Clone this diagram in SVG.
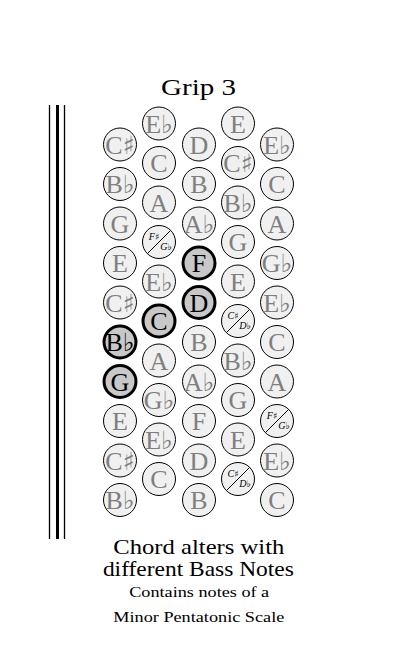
<svg xmlns="http://www.w3.org/2000/svg" width="412" height="645" viewBox="0 0 412 645">
<style>
.k{fill:#f0f0f0;stroke:#000;stroke-width:1}
.h{fill:#c8c8c8;stroke:#000;stroke-width:3}
.t{font-family:"Liberation Serif","DejaVu Sans",serif;font-size:26px;fill:#7f7f7f;text-anchor:middle}
.th{fill:#000}
.acc{font-family:"DejaVu Sans",sans-serif;font-size:25px}
.s{font-family:"Liberation Serif","DejaVu Sans",serif;font-size:10px;font-style:italic;fill:#000;text-anchor:middle}
.sa{font-family:"DejaVu Sans",sans-serif;font-size:9px;font-style:normal}
.d{stroke:#000;stroke-width:1}
.cap{font-family:"Liberation Serif",serif;fill:#000;text-anchor:middle}
</style>
<rect width="412" height="645" fill="#fff"/>
<g id="lines">
<line x1="49.5" y1="105" x2="49.5" y2="539" stroke="#000" stroke-width="1.3"/>
<line x1="57.5" y1="105" x2="57.5" y2="539" stroke="#000" stroke-width="3"/>
<line x1="64.5" y1="105" x2="64.5" y2="539" stroke="#000" stroke-width="1.3"/>
</g>
<text id="title" class="cap" x="198.5" y="95" font-size="23" textLength="75" lengthAdjust="spacingAndGlyphs">Grip 3</text>
<g id="col1">
<g id="c1r0"><circle class="k" cx="120" cy="144.5" r="16.5"/><text class="t" x="120" y="153.5">C<tspan class="acc">♯</tspan></text></g>
<g id="c1r1"><circle class="k" cx="120" cy="184" r="16.5"/><text class="t" x="120" y="193">B<tspan class="acc">♭</tspan></text></g>
<g id="c1r2"><circle class="k" cx="120" cy="223.5" r="16.5"/><text class="t" x="120" y="232.5">G</text></g>
<g id="c1r3"><circle class="k" cx="120" cy="263" r="16.5"/><text class="t" x="120" y="272">E</text></g>
<g id="c1r4"><circle class="k" cx="120" cy="302.5" r="16.5"/><text class="t" x="120" y="311.5">C<tspan class="acc">♯</tspan></text></g>
<g id="c1r5"><circle class="h" cx="120" cy="342" r="16"/><text class="t th" x="120" y="351">B<tspan class="acc">♭</tspan></text></g>
<g id="c1r6"><circle class="h" cx="120" cy="381.5" r="16"/><text class="t th" x="120" y="390.5">G</text></g>
<g id="c1r7"><circle class="k" cx="120" cy="421" r="16.5"/><text class="t" x="120" y="430">E</text></g>
<g id="c1r8"><circle class="k" cx="120" cy="460.5" r="16.5"/><text class="t" x="120" y="469.5">C<tspan class="acc">♯</tspan></text></g>
<g id="c1r9"><circle class="k" cx="120" cy="500" r="16.5"/><text class="t" x="120" y="509">B<tspan class="acc">♭</tspan></text></g>
</g>
<g id="col2">
<g id="c2r0"><circle class="k" cx="159" cy="123.5" r="16.5"/><text class="t" x="159" y="132.5">E<tspan class="acc">♭</tspan></text></g>
<g id="c2r1"><circle class="k" cx="159" cy="163" r="16.5"/><text class="t" x="159" y="172">C</text></g>
<g id="c2r2"><circle class="k" cx="159" cy="202.5" r="16.5"/><text class="t" x="159" y="211.5">A</text></g>
<g id="c2r3"><circle class="k" cx="159" cy="242" r="16.5"/><line class="d" x1="147.5" y1="253.5" x2="170.5" y2="230.5"/><text class="s" x="154" y="240">F<tspan class="sa">♯</tspan></text><text class="s" x="166" y="250">G<tspan class="sa">♭</tspan></text></g>
<g id="c2r4"><circle class="k" cx="159" cy="281.5" r="16.5"/><text class="t" x="159" y="290.5">E<tspan class="acc">♭</tspan></text></g>
<g id="c2r5"><circle class="h" cx="159" cy="321" r="16"/><text class="t th" x="159" y="330">C</text></g>
<g id="c2r6"><circle class="k" cx="159" cy="360.5" r="16.5"/><text class="t" x="159" y="369.5">A</text></g>
<g id="c2r7"><circle class="k" cx="159" cy="400" r="16.5"/><text class="t" x="159" y="409">G<tspan class="acc">♭</tspan></text></g>
<g id="c2r8"><circle class="k" cx="159" cy="439.5" r="16.5"/><text class="t" x="159" y="448.5">E<tspan class="acc">♭</tspan></text></g>
<g id="c2r9"><circle class="k" cx="159" cy="479" r="16.5"/><text class="t" x="159" y="488">C</text></g>
</g>
<g id="col3">
<g id="c3r0"><circle class="k" cx="199" cy="144.5" r="16.5"/><text class="t" x="199" y="153.5">D</text></g>
<g id="c3r1"><circle class="k" cx="199" cy="184" r="16.5"/><text class="t" x="199" y="193">B</text></g>
<g id="c3r2"><circle class="k" cx="199" cy="223.5" r="16.5"/><text class="t" x="199" y="232.5">A<tspan class="acc">♭</tspan></text></g>
<g id="c3r3"><circle class="h" cx="199" cy="263" r="16"/><text class="t th" x="199" y="272">F</text></g>
<g id="c3r4"><circle class="h" cx="199" cy="302.5" r="16"/><text class="t th" x="199" y="311.5">D</text></g>
<g id="c3r5"><circle class="k" cx="199" cy="342" r="16.5"/><text class="t" x="199" y="351">B</text></g>
<g id="c3r6"><circle class="k" cx="199" cy="381.5" r="16.5"/><text class="t" x="199" y="390.5">A<tspan class="acc">♭</tspan></text></g>
<g id="c3r7"><circle class="k" cx="199" cy="421" r="16.5"/><text class="t" x="199" y="430">F</text></g>
<g id="c3r8"><circle class="k" cx="199" cy="460.5" r="16.5"/><text class="t" x="199" y="469.5">D</text></g>
<g id="c3r9"><circle class="k" cx="199" cy="500" r="16.5"/><text class="t" x="199" y="509">B</text></g>
</g>
<g id="col4">
<g id="c4r0"><circle class="k" cx="238" cy="123.5" r="16.5"/><text class="t" x="238" y="132.5">E</text></g>
<g id="c4r1"><circle class="k" cx="238" cy="163" r="16.5"/><text class="t" x="238" y="172">C<tspan class="acc">♯</tspan></text></g>
<g id="c4r2"><circle class="k" cx="238" cy="202.5" r="16.5"/><text class="t" x="238" y="211.5">B<tspan class="acc">♭</tspan></text></g>
<g id="c4r3"><circle class="k" cx="238" cy="242" r="16.5"/><text class="t" x="238" y="251">G</text></g>
<g id="c4r4"><circle class="k" cx="238" cy="281.5" r="16.5"/><text class="t" x="238" y="290.5">E</text></g>
<g id="c4r5"><circle class="k" cx="238" cy="321" r="16.5"/><line class="d" x1="226.5" y1="332.5" x2="249.5" y2="309.5"/><text class="s" x="233" y="319">C<tspan class="sa">♯</tspan></text><text class="s" x="245" y="329">D<tspan class="sa">♭</tspan></text></g>
<g id="c4r6"><circle class="k" cx="238" cy="360.5" r="16.5"/><text class="t" x="238" y="369.5">B<tspan class="acc">♭</tspan></text></g>
<g id="c4r7"><circle class="k" cx="238" cy="400" r="16.5"/><text class="t" x="238" y="409">G</text></g>
<g id="c4r8"><circle class="k" cx="238" cy="439.5" r="16.5"/><text class="t" x="238" y="448.5">E</text></g>
<g id="c4r9"><circle class="k" cx="238" cy="479" r="16.5"/><line class="d" x1="226.5" y1="490.5" x2="249.5" y2="467.5"/><text class="s" x="233" y="477">C<tspan class="sa">♯</tspan></text><text class="s" x="245" y="487">D<tspan class="sa">♭</tspan></text></g>
</g>
<g id="col5">
<g id="c5r0"><circle class="k" cx="277" cy="144.5" r="16.5"/><text class="t" x="277" y="153.5">E<tspan class="acc">♭</tspan></text></g>
<g id="c5r1"><circle class="k" cx="277" cy="184" r="16.5"/><text class="t" x="277" y="193">C</text></g>
<g id="c5r2"><circle class="k" cx="277" cy="223.5" r="16.5"/><text class="t" x="277" y="232.5">A</text></g>
<g id="c5r3"><circle class="k" cx="277" cy="263" r="16.5"/><text class="t" x="277" y="272">G<tspan class="acc">♭</tspan></text></g>
<g id="c5r4"><circle class="k" cx="277" cy="302.5" r="16.5"/><text class="t" x="277" y="311.5">E<tspan class="acc">♭</tspan></text></g>
<g id="c5r5"><circle class="k" cx="277" cy="342" r="16.5"/><text class="t" x="277" y="351">C</text></g>
<g id="c5r6"><circle class="k" cx="277" cy="381.5" r="16.5"/><text class="t" x="277" y="390.5">A</text></g>
<g id="c5r7"><circle class="k" cx="277" cy="421" r="16.5"/><line class="d" x1="265.5" y1="432.5" x2="288.5" y2="409.5"/><text class="s" x="272" y="419">F<tspan class="sa">♯</tspan></text><text class="s" x="284" y="429">G<tspan class="sa">♭</tspan></text></g>
<g id="c5r8"><circle class="k" cx="277" cy="460.5" r="16.5"/><text class="t" x="277" y="469.5">E<tspan class="acc">♭</tspan></text></g>
<g id="c5r9"><circle class="k" cx="277" cy="500" r="16.5"/><text class="t" x="277" y="509">C</text></g>
</g>
<g id="caption">
<text class="cap" x="198.8" y="554" font-size="21" textLength="171" lengthAdjust="spacingAndGlyphs">Chord alters with</text>
<text class="cap" x="198.4" y="576" font-size="21" textLength="191" lengthAdjust="spacingAndGlyphs">different Bass Notes</text>
<text class="cap" x="199.2" y="597" font-size="15" textLength="140" lengthAdjust="spacingAndGlyphs">Contains notes of a</text>
<text class="cap" x="198.8" y="622" font-size="15" textLength="171" lengthAdjust="spacingAndGlyphs">Minor Pentatonic Scale</text>
</g>
</svg>
